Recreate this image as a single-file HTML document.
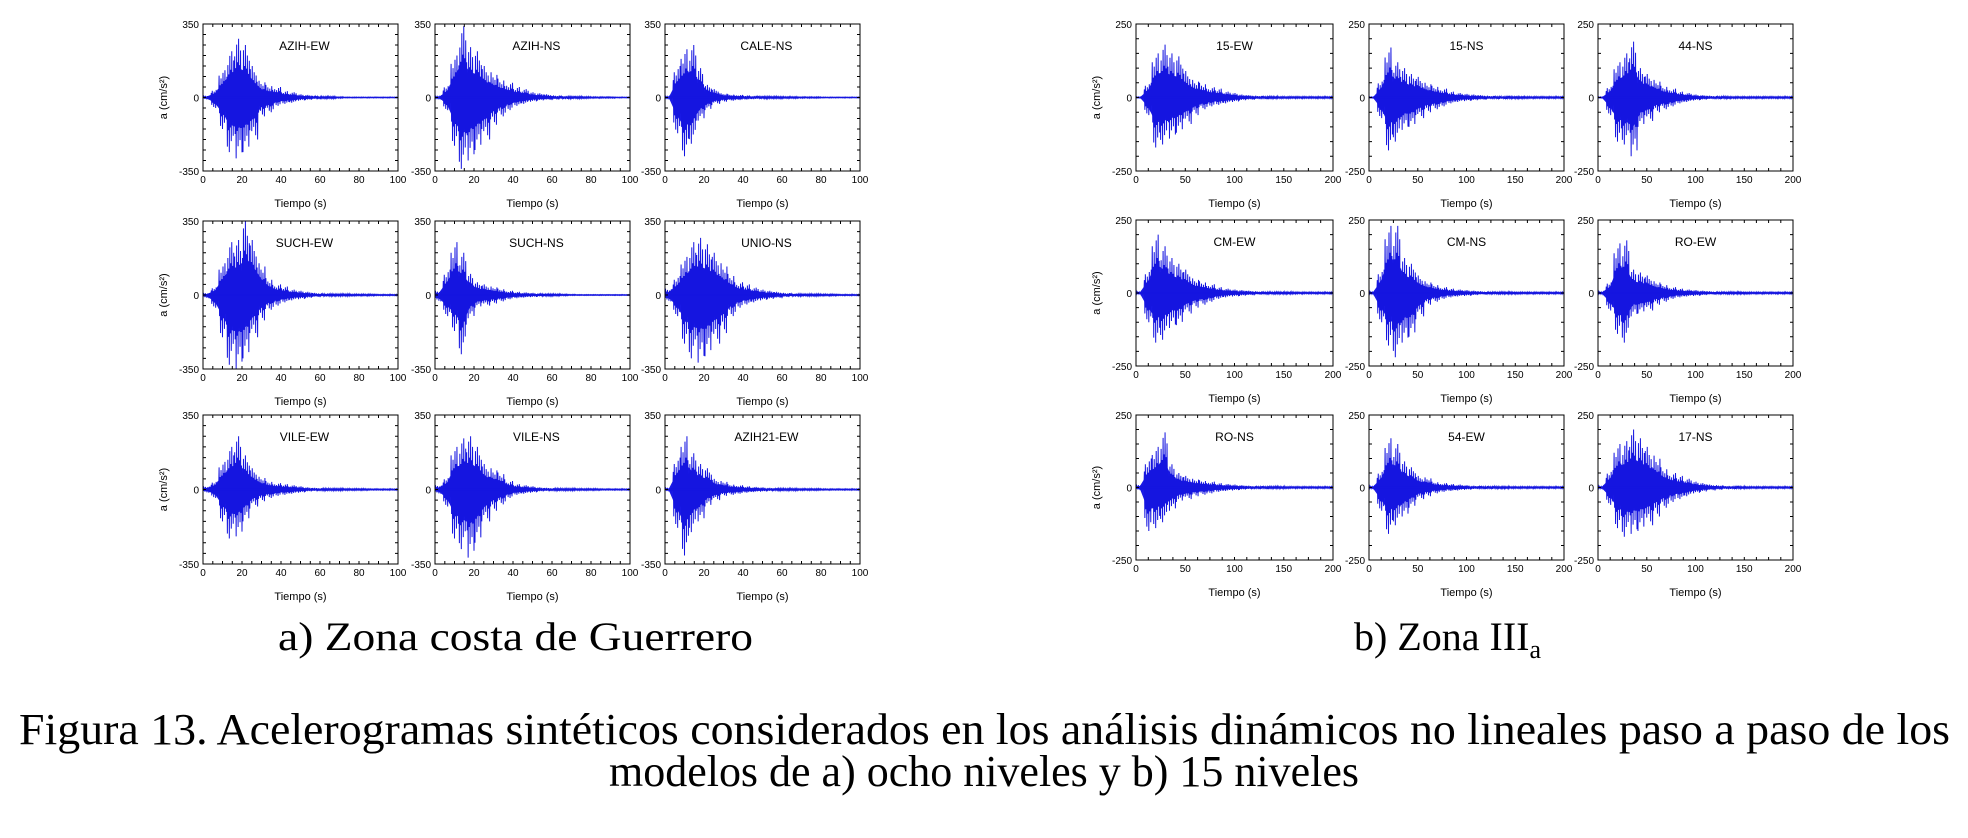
<!DOCTYPE html>
<html><head><meta charset="utf-8"><style>
html,body{margin:0;padding:0;background:#fff;}
svg{display:block;}
</style></head>
<body>
<svg id="fig" width="1968" height="838" viewBox="0 0 1968 838" xmlns="http://www.w3.org/2000/svg">
<rect x="0" y="0" width="1968" height="838" fill="#fff"/>
<text x="278" y="650" font-family="Liberation Serif, serif" font-size="40" textLength="475" lengthAdjust="spacingAndGlyphs">a) Zona costa de Guerrero</text>
<text x="1354" y="650" font-family="Liberation Serif, serif" font-size="40">b) Zona III<tspan font-size="26" dy="8">a</tspan></text>
<text x="19" y="744" font-family="Liberation Serif, serif" font-size="44" textLength="1931" lengthAdjust="spacingAndGlyphs">Figura 13. Acelerogramas sintéticos considerados en los análisis dinámicos no lineales paso a paso de los</text>
<text x="609" y="786" font-family="Liberation Serif, serif" font-size="44" textLength="750" lengthAdjust="spacingAndGlyphs">modelos de a) ocho niveles y b) 15 niveles</text>
</svg>
<script>
// Left grid: time 0-100 s, bins of 4 s; right grid: 0-200 s, bins of 8 s
const leftTitles = ["AZIH-EW","AZIH-NS","CALE-NS","SUCH-EW","SUCH-NS","UNIO-NS","VILE-EW","VILE-NS","AZIH21-EW"];
const rightTitles = ["15-EW","15-NS","44-NS","CM-EW","CM-NS","RO-EW","RO-NS","54-EW","17-NS"];
const leftXTicks = [0,20,40,60,80,100];
const rightXTicks = [0,50,100,150,200];
const leftYTicks = [350,0,-350];
const rightYTicks = [250,0,-250];

const leftPos = [
 [10,40,130,220,280,250,150,80,60,50,30,25,15,12,8,5,5,3,2,2,2,2,2,2,2],
 [5,60,200,340,240,220,150,120,90,70,50,40,25,20,15,10,8,6,5,4,3,3,3,2,2],
 [5,150,230,250,140,60,40,20,15,12,10,8,6,5,5,4,4,3,3,3,2,2,2,2,2],
 [10,40,150,250,260,350,260,150,80,50,40,25,20,15,10,8,6,5,5,4,4,4,3,3,3],
 [20,120,250,200,100,60,50,40,30,20,15,12,10,8,6,5,4,3,2,2,2,2,2,2,2],
 [30,90,180,250,270,240,200,150,100,60,50,35,25,20,15,10,8,6,5,5,4,4,3,3,3],
 [15,40,130,200,250,160,100,60,40,30,25,20,15,10,8,6,5,5,4,4,4,3,3,3,3],
 [20,60,200,240,250,200,120,100,80,40,25,20,15,10,8,6,5,5,4,4,4,3,3,3,3],
 [10,150,250,170,120,100,50,40,25,20,15,12,10,8,6,5,5,4,4,4,3,3,3,3,3]
];
const leftNeg = [
 [10,50,150,260,290,260,200,90,70,40,30,25,15,12,8,5,5,3,2,2,2,2,2,2,2],
 [5,60,230,340,300,250,200,130,90,60,40,30,20,15,12,10,8,6,5,4,3,3,3,2,2],
 [5,170,280,220,110,60,30,20,15,12,10,8,6,5,5,4,4,3,3,3,2,2,2,2,2],
 [15,60,200,330,350,300,200,120,70,50,35,25,20,15,10,8,6,5,5,4,4,4,3,3,3],
 [30,100,170,280,110,60,50,40,30,20,15,12,10,8,5,4,3,2,2,2,2,2,2,2,2],
 [30,100,230,300,320,290,230,180,100,60,45,35,25,20,15,10,8,6,5,5,4,4,3,3,3],
 [15,40,150,230,220,150,80,55,40,30,25,20,15,10,8,6,5,5,4,4,4,3,3,3,3],
 [20,80,230,280,320,250,150,100,70,40,25,20,15,10,8,6,5,5,4,4,4,3,3,3,3],
 [10,180,310,200,150,80,50,30,25,20,15,12,10,8,6,5,5,4,4,4,3,3,3,3,3]
];
const rightPos = [
 [2,50,150,180,150,140,90,60,50,35,30,20,15,10,8,6,5,4,3,3,3,3,3,3,3],
 [2,60,170,120,100,80,70,50,40,30,20,15,12,10,8,6,5,5,4,4,3,3,3,3,3],
 [2,40,120,150,190,100,80,60,40,30,20,15,10,8,6,5,4,3,3,3,3,3,3,3,3],
 [5,80,200,160,120,100,80,50,40,30,20,15,12,10,8,6,5,5,4,4,3,3,3,3,3],
 [5,80,230,230,120,100,60,40,30,20,15,12,10,8,6,5,5,4,4,3,3,3,3,3,3],
 [5,40,170,180,80,70,60,40,30,20,15,12,10,8,6,5,5,4,4,3,3,3,3,3,3],
 [10,100,140,190,80,50,40,30,25,20,15,12,10,8,6,5,5,4,4,3,3,3,3,3,3],
 [5,60,170,150,90,70,40,35,20,15,12,10,8,6,5,5,4,4,3,3,3,3,3,3,3],
 [5,60,150,160,200,170,140,110,70,50,40,30,20,15,10,8,6,5,4,3,3,3,3,3,3]
];
const rightNeg = [
 [2,60,170,160,140,120,90,60,40,30,25,20,15,10,8,6,5,4,3,3,3,3,3,3,3],
 [2,70,180,150,110,100,70,50,40,30,20,15,12,10,8,6,5,5,4,4,3,3,3,3,3],
 [2,60,150,160,200,100,80,50,40,30,20,15,10,8,6,5,4,3,3,3,3,3,3,3,3],
 [5,100,170,160,120,110,70,50,40,30,20,15,12,10,8,6,5,5,4,4,3,3,3,3,3],
 [5,100,180,220,170,150,80,40,30,20,15,12,10,8,6,5,5,4,4,3,3,3,3,3,3],
 [5,60,140,170,80,70,60,40,30,20,15,12,10,8,6,5,5,4,4,3,3,3,3,3,3],
 [10,150,140,120,80,50,40,30,25,20,15,12,10,8,6,5,5,4,4,3,3,3,3,3,3],
 [5,80,160,130,100,70,40,30,20,15,12,10,8,6,5,5,4,4,3,3,3,3,3,3,3],
 [5,60,140,170,160,150,130,100,70,50,40,30,20,15,10,8,6,5,4,3,3,3,3,3,3]
];

const NS = "http://www.w3.org/2000/svg";
const svg = document.getElementById("fig");
function mk(tag, attrs, parent) {
  const e = document.createElementNS(NS, tag);
  for (const k in attrs) e.setAttribute(k, attrs[k]);
  (parent || svg).appendChild(e);
  return e;
}
const leftCols = [[203,398],[435,630],[665,860]];
const rightCols = [[1136,1333],[1369,1564],[1598,1793]];
const leftRows = [[24,171],[221,369],[415,564]];
const rightRows = [[24,171],[220,366],[415,560]];
const pattern = [1,0.55,0.8,0.45,0.7,0.5,0.9,0.6];

function panel(x0,x1,y0,y1,tmax,ymax,xticks,yticks,minorX,minorY,title,pos,neg,showYLabel,titleFrac) {
  const g = mk("g", {});
  
  
  const sx = t => x0 + (t / tmax) * (x1 - x0);
  const sy = v => (y0 + y1) / 2 - (v / ymax) * (y1 - y0) / 2;
  const nb = pos.length, bw = tmax / nb;
  let d = "M" + sx(0) + "," + sy(0);
  for (let i = 0; i < nb; i++) {
    const sub = 8;
    for (let k = 0; k < sub; k++) {
      const t = i * bw + (k + 0.5) * bw / sub;
      const f = pattern[(k + i) % pattern.length];
      d += " L" + sx(t).toFixed(2) + "," + sy(pos[i] * f).toFixed(2);
      d += " L" + sx(t + bw / sub / 2).toFixed(2) + "," + sy(-neg[i] * pattern[(k + i + 3) % pattern.length]).toFixed(2);
    }
  }
  d += " L" + sx(tmax) + "," + sy(0);
  const fillD = (() => {
    let s = "M" + sx(0) + "," + sy(0);
    for (let i = 0; i < nb; i++) s += " L" + sx((i + 0.5) * bw).toFixed(2) + "," + sy(pos[i] * 0.5).toFixed(2);
    s += " L" + sx(tmax) + "," + sy(0);
    for (let i = nb - 1; i >= 0; i--) s += " L" + sx((i + 0.5) * bw).toFixed(2) + "," + sy(-neg[i] * 0.5).toFixed(2);
    return s + " Z";
  })();
  const f = mk("path", {d: fillD, fill: "#1a1ae6"}, g);
  
  
  const p = mk("path", {d: d, fill: "none", stroke: "#1515e0", "stroke-width": 1}, g);
  
  
  const zl = mk("line", {x1: sx(0), x2: sx(tmax), y1: sy(0), y2: sy(0), stroke: "#1515e0", "stroke-width": 1.2}, g);
  
  
  const fr = mk("rect", {x: x0, y: y0, width: x1 - x0, height: y1 - y0, fill: "none", stroke: "#000", "stroke-width": 1}, g);
  
  
  let td = "";
  for (let t = 0; t <= tmax + 1e-6; t += minorX) {
    const X = sx(t).toFixed(1);
    td += `M${X},${y1}v-3M${X},${y0}v3`;
  }
  for (let v = -ymax; v <= ymax + 1e-6; v += minorY) {
    const Y = sy(v).toFixed(1);
    td += `M${x0},${Y}h3M${x1},${Y}h-3`;
  }
  const tk = mk("path", {d: td, stroke: "#000", "stroke-width": 1, fill: "none"}, g);
  
  
  const font = "Liberation Sans Narrow, Liberation Sans, sans-serif";
  xticks.forEach(t => {
    const e = mk("text", {x: sx(t), y: y1 + 12, "font-family": font, "font-size": 10, "text-anchor": "middle"}, g);
    e.textContent = t;
    
    
  });
  yticks.forEach(v => {
    const e = mk("text", {x: x0 - 4, y: sy(v) + 4, "font-family": font, "font-size": 10, "text-anchor": "end"}, g);
    e.textContent = v;
    
    
  });
  const xl = mk("text", {x: (x0 + x1) / 2, y: y1 + 36, "font-family": font, "font-size": 11, "text-anchor": "middle"}, g);
  xl.textContent = "Tiempo (s)";
  
  
  const tt = mk("text", {x: x0 + (x1 - x0) * titleFrac, y: y0 + 26, "font-family": font, "font-size": 12, "text-anchor": "middle"}, g);
  tt.textContent = title;
  
  
  if (showYLabel) {
    const cx = x0 - 36, cy = (y0 + y1) / 2;
    const yl = mk("text", {x: cx, y: cy, "font-family": "Liberation Sans, sans-serif", "font-size": 11, "text-anchor": "middle", transform: `rotate(-90 ${cx} ${cy})`}, g);
    yl.textContent = "a (cm/s²)";
    
    
  }
}
for (let i = 0; i < 9; i++) {
  const r = Math.floor(i / 3), c = i % 3;
  panel(leftCols[c][0], leftCols[c][1], leftRows[r][0], leftRows[r][1], 100, 350, leftXTicks, leftYTicks, 5, 50, leftTitles[i], leftPos[i], leftNeg[i], c === 0, 0.52);
  panel(rightCols[c][0], rightCols[c][1], rightRows[r][0], rightRows[r][1], 200, 250, rightXTicks, rightYTicks, 12.5, 50, rightTitles[i], rightPos[i], rightNeg[i], c === 0, 0.5);
}
</script>
</body></html>
